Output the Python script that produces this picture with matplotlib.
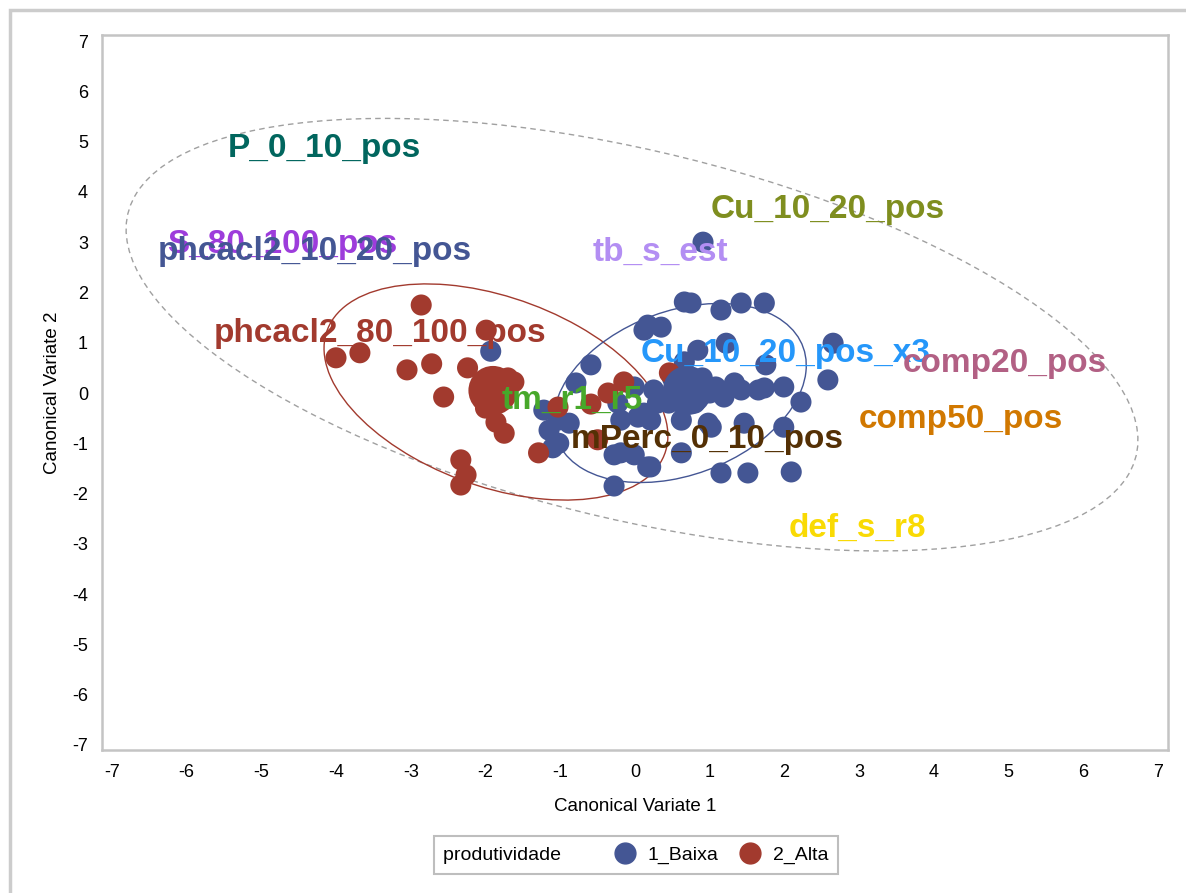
import numpy as np
import matplotlib.pyplot as plt
from matplotlib.patches import Ellipse, Rectangle
from matplotlib.lines import Line2D

plt.rcParams['font.family'] = ['Liberation Sans', 'DejaVu Sans']
plt.rcParams['axes.unicode_minus'] = False

# --- data ---
# group 1_Baixa (blue)
baixa_x = [-1.93, 0.91, -0.59, -0.79, -1.22, -1.03, -0.88, -1.02, -1.10, -0.28,
           -0.19, -0.01, 0.17, -0.23, 0.04, 0.21, 0.12, 0.17, 0.35, 0.66,
           0.75, 1.15, 1.42, 1.73, 0.84, 0.66, 0.25, -0.01, 1.08, 1.19,
           1.42, 1.65, 0.62, 1.02, 1.46, -0.19, 0.12, 0.62, 0.21, 1.15,
           1.51, 2.65, 2.58, 2.22, 1.99, 1.73, 1.33, 1.99, 2.09, 1.22,
           1.75, 0.98, -1.15, 0.50, 0.90, 0.80, 0.45, 1.00, -0.28, 0.30]
baixa_y = [0.83, 3.00, 0.56, 0.20, -0.34, -0.54, -0.60, -1.00, -1.09, -1.85,
           -1.19, -1.23, -1.47, -0.20, -0.48, -0.54, 1.25, 1.35, 1.31, 1.81,
           1.79, 1.65, 1.79, 1.79, 0.85, 0.62, 0.06, 0.12, 0.12, -0.08,
           0.06, 0.06, -0.54, -0.68, -0.60, -0.54, -0.40, -1.19, -1.47, -1.59,
           -1.59, 0.99, 0.26, -0.18, 0.12, 0.10, 0.20, -0.68, -1.57, 0.99,
           0.56, -0.60, -0.74, 0.30, 0.30, -0.20, -0.20, 0.00, -1.23, -0.20]

# group 2_Alta (red)
alta_x = [-2.86, -1.99, -4.00, -3.68, -3.05, -2.72, -2.24, -2.56, -1.86, -1.75,
          -2.33, -2.26, -2.33, -1.29, -1.62, -2.00, -0.15, -0.36, -0.59, -0.50,
          0.46, -1.03, -1.70]
alta_y = [1.75, 1.25, 0.70, 0.80, 0.46, 0.58, 0.50, -0.08, -0.58, -0.80,
          -1.33, -1.63, -1.83, -1.19, 0.22, -0.30, 0.22, 0.00, -0.22, -0.93,
          0.40, -0.28, 0.30]

# class means (large markers)
mean_x = [0.70, -1.90]
mean_y = [0.05, 0.05]

# variable labels
var_names = ['P_0_10_pos', 'Cu_10_20_pos', 'S_80_100_pos', 'phcacl2_10_20_pos',
             'tb_s_est', 'phcacl2_80_100_pos', 'Cu_10_20_pos_x3', 'comp20_pos',
             'tm_r1_r5', 'comp50_pos', 'mPerc_0_10_pos', 'def_s_r8']
var_x = [-5.45, 1.01, -6.26, -6.39, -0.57, -5.63, 0.08, 3.58, -1.79, 2.99, -0.86, 2.05]
var_y = [4.69, 3.48, 2.78, 2.64, 2.62, 1.01, 0.62, 0.42, -0.32, -0.70, -1.09, -2.86]
var_colors = ['#01665E', '#7F8E1F', '#9D3CDB', '#445694', '#B38EF3', '#A23A2E',
              '#2597FA', '#B26084', '#47A82A', '#D17800', '#543005', '#F9DA04']

# ellipses: centre and shape matrix [[a, b], [b, c]]
ell_all = ((-0.04, 1.16), [[45.8, -14.2], [-14.2, 18.5]])
ell_alta = ((-1.86, 0.02), [[5.29, -2.0], [-2.0, 4.62]])
ell_baixa = ((0.60, 0.00), [[2.86, 0.93], [0.93, 3.17]])

blue = '#445694'
red = '#A23A2E'
frame_gray = '#C4C4C4'


def make_ellipse(spec, **kw):
    (cx, cy), m = spec
    vals, vecs = np.linalg.eigh(np.array(m))
    angle = np.degrees(np.arctan2(vecs[1, 1], vecs[0, 1]))
    return Ellipse((cx, cy), 2 * np.sqrt(vals[1]), 2 * np.sqrt(vals[0]),
                   angle=angle, fill=False, **kw)


fig = plt.figure(figsize=(11.86, 8.93), dpi=100)
ax = fig.add_axes([102 / 1186, 1 - 750 / 893, 1066 / 1186, 715 / 893])

ax.add_patch(make_ellipse(ell_all, edgecolor='#A0A0A0', lw=1.0, ls=(0, (4, 3)), zorder=1))
ax.add_patch(make_ellipse(ell_alta, edgecolor=red, lw=1.0, zorder=1))
ax.add_patch(make_ellipse(ell_baixa, edgecolor=blue, lw=1.0, zorder=1))

ax.scatter(baixa_x, baixa_y, s=230, color=blue, edgecolors='none', zorder=2)
ax.scatter(alta_x, alta_y, s=230, color=red, edgecolors='none', zorder=2)
ax.scatter(mean_x, mean_y, s=1250, color=[blue, red], edgecolors='none', zorder=3)

for name, x, y, c in zip(var_names, var_x, var_y, var_colors):
    ax.text(x, y, name, color=c, fontsize=24, fontweight='bold',
            ha='left', va='baseline', zorder=4)

ax.set_xlim(-7.13, 7.13)
ax.set_ylim(-7.1, 7.12)
ax.set_xticks(range(-7, 8))
ax.set_yticks(range(-7, 8))
ax.tick_params(length=0, labelsize=13, pad=10)
for sp in ax.spines.values():
    sp.set_color(frame_gray)
    sp.set_linewidth(1.8)
ax.set_xlabel('Canonical Variate 1', fontsize=13.5, labelpad=12)
ax.set_ylabel('Canonical Variate 2', fontsize=13.5, labelpad=8)

# outer border
fig.add_artist(Rectangle((10 / 1186, -0.2), 1.5, 1.2 - 10 / 893, transform=fig.transFigure,
                         fill=False, edgecolor='#CCCCCC', lw=2.5))

# legend with title on the left
h_b = Line2D([], [], ls='none', marker='o', ms=15, mfc=blue, mec=blue)
h_a = Line2D([], [], ls='none', marker='o', ms=15, mfc=red, mec=red)
leg = fig.legend(handles=[h_b, h_a], labels=['1_Baixa', '2_Alta'],
                 title='produtividade      ', ncol=2, loc='center',
                 bbox_to_anchor=(636 / 1186, 1 - 855 / 893),
                 fontsize=14, title_fontsize=14, handletextpad=0.6,
                 columnspacing=1.0, handlelength=1.2, borderpad=0.5,
                 fancybox=False, edgecolor='#BEBEBE', framealpha=1)
leg.get_frame().set_linewidth(1.5)
vbox = leg._legend_box
title_box, hbox = vbox.get_children()
vbox._children = [hbox]
hbox._children = [title_box] + hbox.get_children()
hbox.align = 'center'

fig.savefig('out.png', dpi=100)
